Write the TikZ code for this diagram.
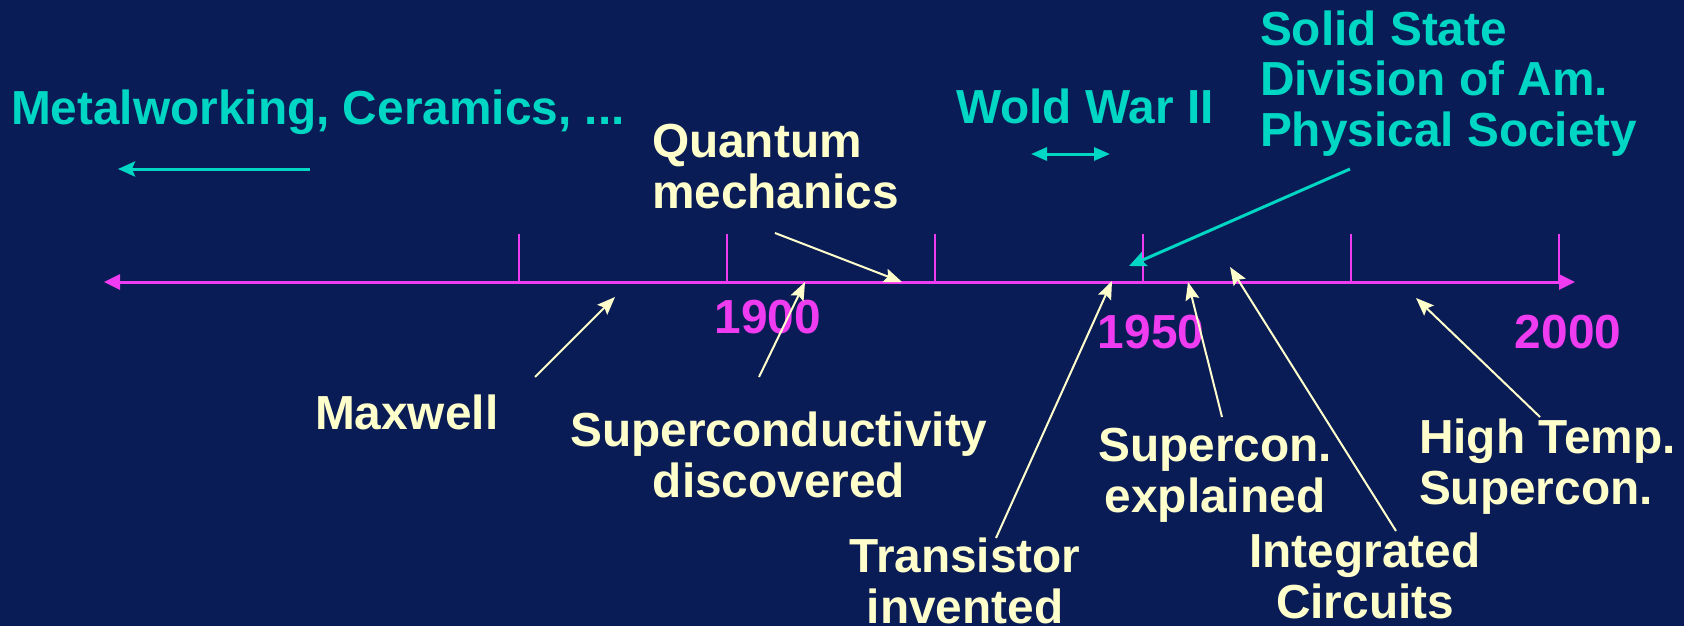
\documentclass[tikz,border=0pt]{standalone}
\usepackage{fontspec}
\setmainfont{Liberation Sans}
\usetikzlibrary{arrows.meta}
\definecolor{bgnavy}{RGB}{10,28,86}
\definecolor{tcyan}{RGB}{0,214,196}
\definecolor{tmag}{RGB}{240,60,240}
\definecolor{tcream}{RGB}{255,255,204}
\newcommand{\lblfont}{\bfseries\fontsize{23.9pt}{25.5pt}\selectfont}
\tikzset{
  lbl/.style={font=\lblfont, inner sep=0pt, outer sep=0pt},
  cream/.style={lbl, text=tcream},
  cyantxt/.style={lbl, text=tcyan},
  yeartxt/.style={lbl, text=tmag},
  axisline/.style={draw=tmag, line width=1.5pt, {Triangle[length=8pt,width=7.5pt]}-{Triangle[length=8pt,width=7.5pt]}},
  tickline/.style={draw=tmag, line width=1pt},
  creamarrow/.style={draw=tcream, line width=1pt, -{Stealth[length=9pt,width=7pt,inset=1.5pt]}},
  cyanarrow/.style={draw=tcyan, line width=1.5pt, -{Stealth[length=8.5pt,width=7.5pt,inset=1.5pt]}},
  cyanboth/.style={draw=tcyan, line width=1.5pt, {Triangle[length=8pt,width=6.5pt]}-{Triangle[length=8pt,width=6.5pt]}},
}
\begin{document}
\begin{tikzpicture}[x=0.5pt,y=-0.5pt]
\useasboundingbox (0,0) rectangle (1684,626);
\fill[bgnavy] (0,0) rectangle (1684,626);

% axis
\coordinate (axL) at (104,282);
\coordinate (axR) at (1575,282);
\draw[axisline] (axL) -- (axR);
\foreach \i in {0,...,5} {
  \coordinate (tb\i) at ({518.5+208.1*\i},282);
  \coordinate (tt\i) at ({518.5+208.1*\i},234);
  \draw[tickline] (tb\i) -- (tt\i);
}

% years
\node[yeartxt, anchor=base] (y1900) at (768,333) {1900};
\node[yeartxt, anchor=base] (y1950) at (1151,348) {1950};
\node[yeartxt, anchor=base] (y2000) at (1568,348) {2000};

% cyan labels (base anchor of multi-line nodes = last line)
\node[cyantxt, anchor=base west] (metal) at (11,125) {Metalworking, Ceramics, ...};
\node[cyantxt, anchor=base west] (wwii) at (956,124) {Wold War II};
\node[cyantxt, anchor=base west, align=left] (solid) at (1260,147) {Solid State\\Division of Am.\\Physical Society};

% cream labels
\node[cream, anchor=base west, align=left] (qm) at (652,208) {Quantum\\mechanics};
\node[cream, anchor=base west] (maxw) at (315,429) {Maxwell};
\node[cream, anchor=base, align=center] (scd) at (779,497) {Superconductivity\\discovered};
\node[cream, anchor=base, align=center] (trans) at (965,623) {Transistor\\invented};
\node[cream, anchor=base, align=center] (sce) at (1215,512) {Supercon.\\explained};
\node[cream, anchor=base, align=center] (ic) at (1365,618) {Integrated\\Circuits};
\node[cream, anchor=base west, align=left] (htsc) at (1419,504) {High Temp.\\Supercon.};

% arrow end points
\coordinate (maxwT) at (535,377);  \coordinate (maxwH) at (615,297);
\coordinate (scdT) at (759,377);   \coordinate (scdH) at (805,282);
\coordinate (qmT) at (775,233);    \coordinate (qmH) at (902,282);
\coordinate (transT) at (996,538); \coordinate (transH) at (1112,281);
\coordinate (sceT) at (1222,417);  \coordinate (sceH) at (1188,282);
\coordinate (icT) at (1396,531);   \coordinate (icH) at (1230,267);
\coordinate (htT) at (1540,417);   \coordinate (htH) at (1416,298);
\coordinate (solT) at (1350,169);  \coordinate (solH) at (1129,266);
\coordinate (wwL) at (1031,154);   \coordinate (wwR) at (1110,154);
\coordinate (metT) at (310,169);   \coordinate (metH) at (118,169);

\draw[creamarrow] (maxwT) -- (maxwH);
\draw[creamarrow] (scdT) -- (scdH);
\draw[creamarrow] (qmT) -- (qmH);
\draw[creamarrow] (transT) -- (transH);
\draw[creamarrow] (sceT) -- (sceH);
\draw[creamarrow] (icT) -- (icH);
\draw[creamarrow] (htT) -- (htH);
\draw[cyanarrow] (solT) -- (solH);
\draw[cyanboth] (wwL) -- (wwR);
\draw[cyanarrow] (metT) -- (metH);
\end{tikzpicture}
\end{document}
